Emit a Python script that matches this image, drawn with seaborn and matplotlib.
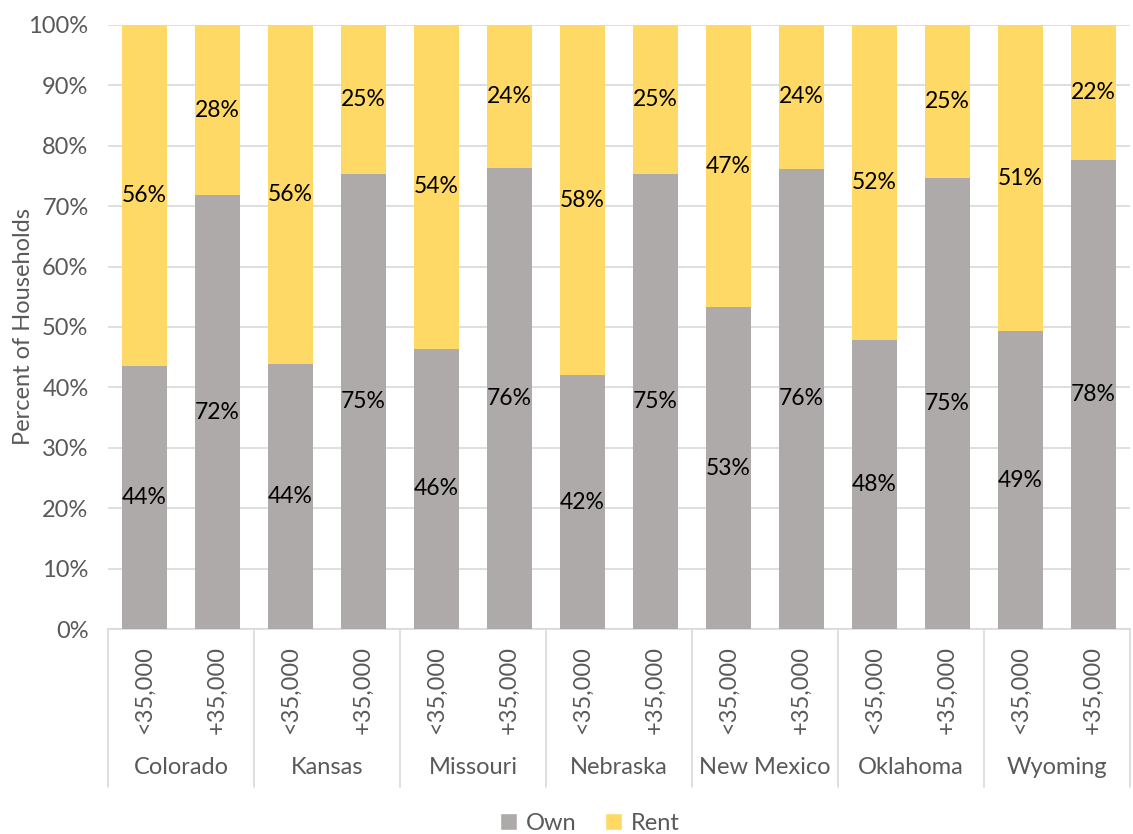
import numpy as np
import pandas as pd
import matplotlib
matplotlib.use("Agg")
import matplotlib.pyplot as plt
import matplotlib.transforms as mtransforms
from matplotlib.patches import Patch
import seaborn as sns

states = ["Colorado", "Kansas", "Missouri", "Nebraska", "New Mexico", "Oklahoma", "Wyoming"]
income = ["<35,000", "+35,000"]
own = [43.6, 71.8, 43.9, 75.3, 46.4, 76.4, 42.0, 75.3, 53.3, 76.2, 47.9, 74.7, 49.3, 77.6]
rent = [56.4, 28.2, 56.1, 24.7, 53.6, 23.6, 58.0, 24.7, 46.7, 23.8, 52.1, 25.3, 50.7, 22.4]
y_ticks = [0, 10, 20, 30, 40, 50, 60, 70, 80, 90, 100]

OWN_C = "#AEAAAA"
RENT_C = "#FFD966"
TXT = "#595959"
GRID = "#D9D9D9"

sns.set_theme(style="white")
plt.rcParams['font.family'] = ['Lato', 'DejaVu Sans']

keys = [f"{s}|{i}" for s in states for i in income]
df = pd.DataFrame({"key": keys, "own": own, "rent": rent})
df["total"] = df["own"] + df["rent"]

fig = plt.figure(figsize=(11.33, 8.34), dpi=100)
ax = fig.add_axes([108/1133, 1-629/834, (1130-108)/1133, (629-25)/834])

sns.barplot(data=df, x="key", y="total", order=keys, color=RENT_C, width=0.63,
            saturation=1, errorbar=None, ax=ax, zorder=2, linewidth=0, edgecolor="none")
sns.barplot(data=df, x="key", y="own", order=keys, color=OWN_C, width=0.63,
            saturation=1, errorbar=None, ax=ax, zorder=3, linewidth=0, edgecolor="none")

fs = 17
for i, (o, r) in enumerate(zip(own, rent)):
    ax.text(i, o/2, f"{round(o)}%", ha="center", va="center", fontsize=16.5, color="#000000", zorder=5)
    ax.text(i, o + r/2, f"{round(r)}%", ha="center", va="center", fontsize=16.5, color="#000000", zorder=5)

ax.set_xlim(-0.5, len(keys)-0.5)
ax.set_ylim(0, 100)
ax.set_yticks(y_ticks)
ax.set_yticklabels([f"{t}%" for t in y_ticks], color=TXT, fontsize=fs)
ax.yaxis.grid(True, color=GRID, lw=1.2)
ax.set_axisbelow(True)
ax.tick_params(axis="y", length=0, pad=14)

ax.set_xticks(range(len(keys)))
ax.set_xticklabels([i for s in states for i in income], rotation=90, color=TXT, fontsize=fs)
ax.tick_params(axis="x", length=0, pad=12)
ax.set_xlabel("")

for sp in ["top", "right", "left"]:
    ax.spines[sp].set_visible(False)
ax.spines["bottom"].set_color(GRID)
ax.spines["bottom"].set_linewidth(1.2)

trans = mtransforms.blended_transform_factory(ax.transData, ax.transAxes)
for b in np.arange(-0.5, len(keys), 2):
    ax.plot([b, b], [0, -(787-629)/604], transform=trans, clip_on=False, color=GRID, lw=1.2)
for g, s in enumerate(states):
    ax.text(2*g + 0.5, -(768-629)/604, s, transform=trans, ha="center", va="center",
            fontsize=fs, color=TXT)

ax.set_ylabel("Percent of Households", color=TXT, fontsize=fs)
ax.yaxis.set_label_coords(-(108-34)/1022, 0.5)

handles = [Patch(facecolor=OWN_C, label="Own"), Patch(facecolor=RENT_C, label="Rent")]
leg = fig.legend(handles=handles, loc="center", bbox_to_anchor=(590/1133, 1-823/834), ncol=2,
                 frameon=False, fontsize=fs, handlelength=0.7, handleheight=0.7,
                 columnspacing=1.2, handletextpad=0.4)
for t in leg.get_texts():
    t.set_color(TXT)

fig.savefig("out.png", dpi=100)
